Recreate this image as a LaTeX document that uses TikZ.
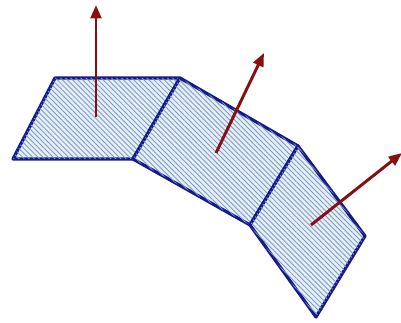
\documentclass[tikz,border=0pt]{standalone}
\usetikzlibrary{patterns.meta,arrows.meta}
\definecolor{edgeblue}{RGB}{20,25,140}
\definecolor{hatch}{RGB}{125,155,190}
\definecolor{tint}{RGB}{230,238,250}
\definecolor{vecred}{RGB}{135,15,15}
\tikzset{
  panel/.style={draw=edgeblue, line width=2.4pt, line join=round, fill=tint,
    postaction={pattern={Lines[angle=-45,distance=2.7pt,line width=0.65pt]}, pattern color=hatch}},
  normalvec/.style={draw=vecred, line width=2.2pt, -{Triangle[length=10pt,width=8pt]}}
}
\begin{document}
\begin{tikzpicture}[x=0.75pt,y=-0.75pt]
\useasboundingbox (0,0) rectangle (401,323);
\coordinate (a) at (13,159);
\coordinate (b) at (55,78);
\coordinate (c) at (180,78);
\coordinate (d) at (133,159);
\coordinate (e) at (298,146);
\coordinate (f) at (250,225);
\coordinate (g) at (365,236);
\coordinate (h) at (316,317);
\path[panel] (a) -- (b) -- (c) -- (d) -- cycle;
\path[panel] (d) -- (c) -- (e) -- (f) -- cycle;
\path[panel] (f) -- (e) -- (g) -- (h) -- cycle;
\coordinate (n1s) at (96,117);
\coordinate (n1e) at (96,5);
\coordinate (n2s) at (216,153);
\coordinate (n2e) at (264,53);
\coordinate (n3s) at (311,225);
\coordinate (n3e) at (402,153);
\draw[normalvec] (n1s) -- (n1e);
\draw[normalvec] (n2s) -- (n2e);
\draw[normalvec] (n3s) -- (n3e);
\end{tikzpicture}
\end{document}
